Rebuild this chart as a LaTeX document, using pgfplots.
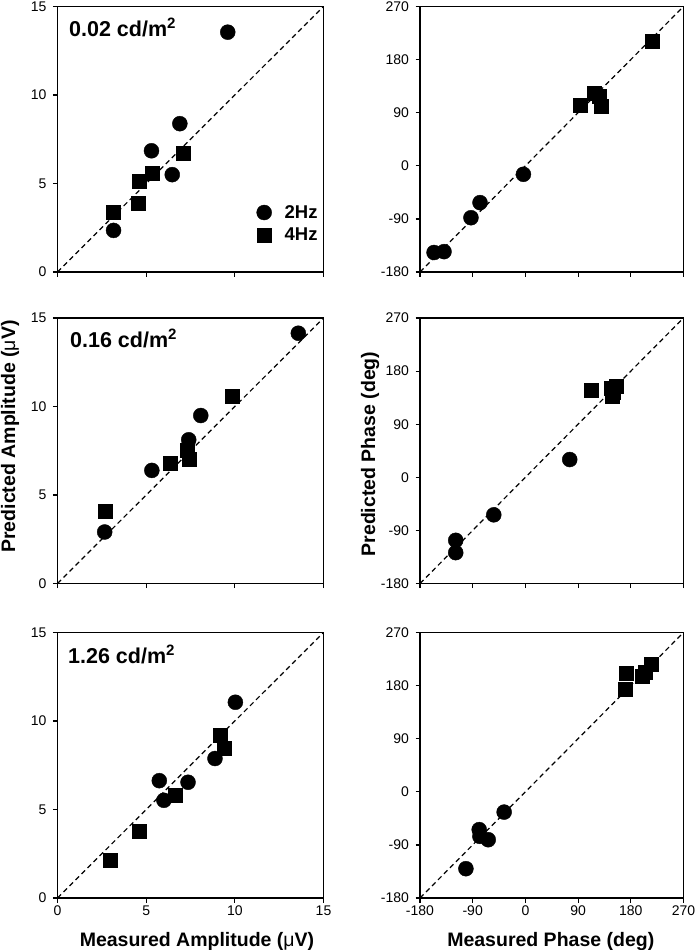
\documentclass[border=0pt]{standalone}
\usepackage{fontspec}
\setmainfont{Liberation Sans}
\usepackage{pgfplots}
\pgfplotsset{compat=1.18}

\pgfplotsset{
  panel/.style={
    scale only axis, height=265.5pt,
    axis line style={line width=1.4pt},
    every tick/.style={line width=1.2pt, black},
    major tick length=4.5pt,
    tick align=outside,
    xtick pos=bottom, ytick pos=left,
    ticklabel style={font=\fontsize{14}{16}\selectfont},
    yticklabel style={xshift=-3pt},
    /pgf/number format/assume math mode=true,
    anchor=south west,
  },
  amp/.style={panel, width=266pt, xmin=0,xmax=15,ymin=0,ymax=15,
    xtick={0,5,10,15}, ytick={0,5,10,15}},
  phase/.style={panel, width=263.5pt, xmin=-180,xmax=270,ymin=-180,ymax=270,
    xtick={-180,-90,0,90,180,270}, ytick={-180,-90,0,90,180,270}},
  notx/.style={xticklabels={}},
  c2/.style={only marks, mark=*, mark size=7.5pt, black, mark options={fill=black, draw=black}},
  c4/.style={only marks, mark=square*, mark size=7pt, black, mark options={fill=black, draw=black}},
  diag/.style={black, line width=1.2pt, dash pattern=on 5pt off 3.5pt, forget plot},
}

\begin{document}
\begin{tikzpicture}
\useasboundingbox (0,0) rectangle (695pt,-950pt);

% ---------- Row 1 ----------
\begin{axis}[amp, notx, at={(57.5pt,-272pt)},
  legend style={at={(rel axis cs:0.748,0.253)}, anchor=north west, draw=none, fill=none,
    font=\bfseries\fontsize{18.5}{22}\selectfont, inner sep=0pt, row sep=8pt,
    nodes={inner sep=0pt}, column sep=13pt},
  legend cell align=left,
  legend image code/.code={\draw[mark repeat=2,mark phase=2,#1] plot coordinates {(0pt,0pt) (7.5pt,0pt) (15pt,0pt)};}]
\addplot[diag] coordinates {(0,0) (15,15)};
\addplot[c2] coordinates {(9.6,13.55) (6.9,8.38) (5.3,6.85) (6.47,5.5) (3.16,2.35)};
\addplot[c4] coordinates {(7.07,6.72) (5.32,5.61) (4.62,5.12) (4.53,3.9) (3.12,3.37)};
\legend{2Hz,4Hz}
\end{axis}

\begin{axis}[phase, notx, at={(420pt,-272pt)}]
\addplot[diag] coordinates {(-180,-180) (270,270)};
\addplot[c2] coordinates {(-156,-147) (-139,-145.5) (-93,-88) (-77.5,-62.4) (-3.4,-14.4)};
\addplot[c4] coordinates {(216,211.7) (93.4,102.6) (118,122.4) (126.5,117.3) (128.7,100.4)};
\end{axis}

% ---------- Row 2 ----------
\begin{axis}[amp, notx, at={(57.5pt,-583.5pt)}]
\addplot[diag] coordinates {(0,0) (15,15)};
\addplot[c2] coordinates {(13.58,14.14) (8.08,9.49) (7.4,8.12) (5.32,6.39) (2.66,2.91)};
\addplot[c4] coordinates {(9.85,10.58) (7.32,7.52) (7.42,7.01) (6.36,6.77) (2.7,4.1)};
\end{axis}

\begin{axis}[phase, notx, at={(420pt,-583.5pt)}]
\addplot[diag] coordinates {(-180,-180) (270,270)};
\addplot[c2] coordinates {(-119,-106.8) (-119,-127.7) (-54,-63.6) (75.7,30.1)};
\addplot[c4] coordinates {(113.2,147.8) (146.7,151.1) (148.4,138.2) (155.2,155.2) (150,145)};
\end{axis}

% ---------- Row 3 ----------
\begin{axis}[amp, at={(57.5pt,-898pt)}]
\addplot[diag] coordinates {(0,0) (15,15)};
\addplot[c2] coordinates {(10.03,11.06) (8.88,7.88) (7.36,6.54) (5.74,6.63) (6.0,5.52)};
\addplot[c4] coordinates {(9.17,9.2) (9.41,8.44) (6.61,5.82) (4.63,3.75) (2.95,2.13)};
\end{axis}

\begin{axis}[phase, at={(420pt,-898pt)}]
\addplot[diag] coordinates {(-180,-180) (270,270)};
\addplot[c2] coordinates {(-101.6,-130.3) (-78.9,-64.1) (-77.7,-75.5) (-63.5,-81.2) (-36.3,-34.4)};
\addplot[c4] coordinates {(172.3,201.5) (170,174.1) (199.5,195.8) (205.2,202.7) (215.5,215.9)};
\end{axis}

% ---------- Panel labels ----------
\begin{scope}[every node/.style={font=\bfseries\fontsize{21.5}{25}\selectfont, anchor=base west, inner sep=0pt}]
\node at (69pt,-36.5pt) {0.02 cd/m\textsuperscript{2}};
\node at (70pt,-347pt) {0.16 cd/m\textsuperscript{2}};
\node at (68pt,-663pt) {1.26 cd/m\textsuperscript{2}};
\end{scope}

% ---------- Axis titles ----------
\begin{scope}[every node/.style={font=\bfseries\fontsize{19.5}{23}\selectfont, inner sep=0pt}]
\node[rotate=90, anchor=base] at (15pt,-436.5pt) {Predicted Amplitude ({\mdseries μ}V)};
\node[rotate=90, anchor=base] at (375pt,-454pt) {Predicted Phase (deg)};
\node[anchor=base] at (197pt,-946.5pt) {Measured Amplitude ({\mdseries μ}V)};
\node[anchor=base] at (550.8pt,-946.5pt) {Measured Phase (deg)};
\end{scope}
\end{tikzpicture}
\end{document}
